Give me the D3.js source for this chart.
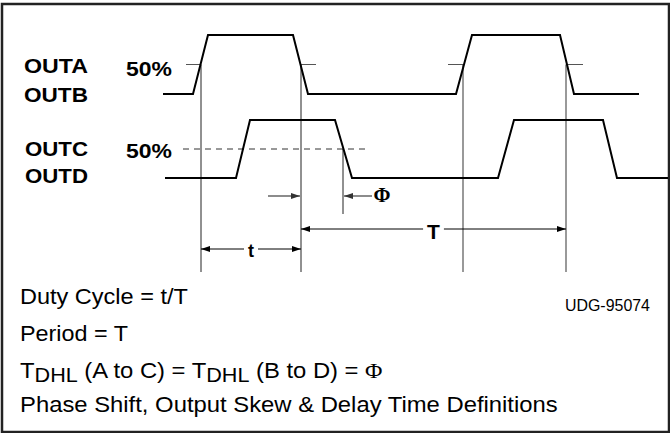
<!DOCTYPE html>
<html>
<head>
<meta charset="utf-8">
<script src="https://d3js.org/d3.v7.min.js"></script>
<style>
  body { margin: 0; background: #fff; }
  svg { display: block; }
</style>
</head>
<body>
<div id="timing-chart"></div>
<script>
// Data ------------------------------------------------------------------->

// Waveforms as [time, level] corners (level 0 = low, 1 = high)
const outab_wave = [[163,0],[193,0],[208,1],[293,1],[308,0],[456,0],[472,1],[560,1],[574,0],[639,0]];
const outcd_wave = [[165,0],[236,0],[250,1],[335,1],[352,0],[498,0],[514,1],[603,1],[617,0],[668,0]];

// Short 50% marks on OUTA/OUTB edges, and the dashed 50% line on OUTC/OUTD
const outab_marks = [[186,200],[300,316],[448,463],[566,583]];
const outcd_mark = [183,368];

// 50% crossing times of OUTA/OUTB (reference lines) and of OUTC falling edge
const edge_times = [201, 301, 463, 566];
const phi_time = 343;

// Dimension arrows: [from, to, label]
const duty_arrow = [201, 301, 't'];
const period_arrow = [301, 566, 'T'];
const skew_in = [268, 300];
const skew_out = [372, 344, 'Φ'];

const signal_names = ['OUTA', 'OUTB', 'OUTC', 'OUTD'];
const level_label = '50%';
const figure_id = 'UDG-95074';
const notes = [
  'Duty Cycle = t/T',
  'Period = T',
  null,
  'Phase Shift, Output Skew & Delay Time Definitions'
];
const delay_parts = [
  ['T', ''], ['DHL', 'sub'], [' (A to C) = T', ''], ['DHL', 'sub'],
  [' (B to D) = ', ''], ['Φ', 'sym']
];

// Setup ------------------------------------------------------------------>

const width = 670, height = 433;
const svg = d3.select('#timing-chart')
  .append('svg')
    .attr('width', width)
    .attr('height', height);

const sans = "'Liberation Sans', Arial, Helvetica, sans-serif";
const serif = "'Liberation Serif', 'Times New Roman', serif";

// Time axis and the two level scales
const x = d3.scaleLinear().domain([0, width]).range([0, width]);
const y_ab = d3.scaleLinear().domain([0, 1]).range([94, 35]);
const y_cd = d3.scaleLinear().domain([0, 1]).range([178, 120]);

const defs = svg.append('defs');
function add_marker(id, color){
  defs.append('marker')
      .attr('id', id)
      .attr('markerUnits', 'userSpaceOnUse')
      .attr('markerWidth', 9)
      .attr('markerHeight', 6)
      .attr('refX', 9)
      .attr('refY', 3)
      .attr('orient', 'auto-start-reverse')
    .append('path')
      .attr('d', 'M0,0 L9,3 L0,6 Z')
      .attr('fill', color);
}
add_marker('arrow', '#000');
add_marker('arrow_grey', '#333');

// Outer frame
svg.append('rect')
  .attr('x', 2)
  .attr('y', 4)
  .attr('width', 667)
  .attr('height', 428)
  .attr('fill', 'none')
  .attr('stroke', '#222')
  .attr('stroke-width', 2.5);

// Text helper: places text at (tx, ty) and stretches it to a target width
function put_text(str, tx, ty, size, weight, target_w, family){
  const t = svg.append('text')
    .attr('x', 0)
    .attr('y', 0)
    .style('font-family', family || sans)
    .style('font-size', size + 'px')
    .style('font-weight', weight)
    .attr('fill', '#000')
    .text(str);
  const w = t.node().getComputedTextLength();
  const sx = target_w ? target_w / w : 1;
  t.attr('transform', `translate(${tx},${ty}) scale(${sx},1)`);
  return t;
}

// Reference lines -------------------------------------------------------->

svg.append('g')
  .selectAll('line')
  .data(edge_times)
  .join('line')
    .attr('x1', d => x(d))
    .attr('x2', d => x(d))
    .attr('y1', y_ab(0.5))
    .attr('y2', 272)
    .attr('stroke', (d, i) => i < 2 ? '#222' : '#777')
    .attr('stroke-width', (d, i) => i < 2 ? 1 : 1.5);

svg.append('line')
  .attr('x1', x(phi_time))
  .attr('x2', x(phi_time))
  .attr('y1', y_cd(0.5))
  .attr('y2', 214)
  .attr('stroke', '#222')
  .attr('stroke-width', 1);

svg.append('g')
  .selectAll('line')
  .data(outab_marks)
  .join('line')
    .attr('x1', d => x(d[0]))
    .attr('x2', d => x(d[1]))
    .attr('y1', y_ab(0.5))
    .attr('y2', y_ab(0.5))
    .attr('stroke', '#555')
    .attr('stroke-width', 1);

svg.append('line')
  .attr('x1', x(outcd_mark[0]))
  .attr('x2', x(outcd_mark[1]))
  .attr('y1', y_cd(0.5))
  .attr('y2', y_cd(0.5))
  .attr('stroke', '#333')
  .attr('stroke-width', 1)
  .attr('stroke-dasharray', '6,5');

// Waveforms -------------------------------------------------------------->

const wave_ab = d3.line().x(d => x(d[0])).y(d => y_ab(d[1]));
const wave_cd = d3.line().x(d => x(d[0])).y(d => y_cd(d[1]));

svg.append('path')
  .attr('d', wave_ab(outab_wave))
  .attr('fill', 'none')
  .attr('stroke', '#000')
  .attr('stroke-width', 2);
svg.append('path')
  .attr('d', wave_cd(outcd_wave))
  .attr('fill', 'none')
  .attr('stroke', '#000')
  .attr('stroke-width', 2);

// Signal labels
put_text(signal_names[0], 24, y_ab(0.5) + 8.5, 19.5, 'bold', 64);
put_text(signal_names[1], 24, y_ab(0) + 7.5, 19.5, 'bold', 64);
put_text(signal_names[2], 25, y_cd(0.5) + 7, 19.5, 'bold', 63);
put_text(signal_names[3], 25, y_cd(0) + 5, 19.5, 'bold', 63);
put_text(level_label, 126, y_ab(0.5) + 11, 19.5, 'bold', 46);
put_text(level_label, 126, y_cd(0.5) + 9, 19.5, 'bold', 46);

// Dimension arrows ------------------------------------------------------->

// Skew arrows at the OUTC 50% level
const skew_y = 196;
svg.append('line')
  .attr('x1', x(skew_in[0])).attr('x2', x(skew_in[1]))
  .attr('y1', skew_y).attr('y2', skew_y)
  .attr('stroke', '#666')
  .attr('stroke-width', 1.5)
  .attr('marker-end', 'url(#arrow_grey)');
svg.append('line')
  .attr('x1', x(skew_out[0])).attr('x2', x(skew_out[1]))
  .attr('y1', skew_y).attr('y2', skew_y)
  .attr('stroke', '#666')
  .attr('stroke-width', 1.5)
  .attr('marker-end', 'url(#arrow_grey)');
put_text(skew_out[2], x(skew_out[0]) + 1.5, skew_y + 5.5, 20, 'bold', 17, serif);

// Double arrows with a centred label
function dim_arrow(spec, ay, size, base_off){
  const [a, b, label] = spec;
  const mid = (x(a) + x(b)) / 2;
  const t = put_text(label, 0, 0, size, 'bold', null);
  const w = t.node().getComputedTextLength();
  t.attr('transform', `translate(${mid - w / 2},${ay + base_off})`);
  const gap = w / 2 + 4;
  svg.append('line')
    .attr('x1', mid - gap).attr('x2', x(a))
    .attr('y1', ay).attr('y2', ay)
    .attr('stroke', '#000').attr('stroke-width', 1)
    .attr('marker-end', 'url(#arrow)');
  svg.append('line')
    .attr('x1', mid + gap).attr('x2', x(b))
    .attr('y1', ay).attr('y2', ay)
    .attr('stroke', '#000').attr('stroke-width', 1)
    .attr('marker-end', 'url(#arrow)');
}
dim_arrow(period_arrow, 229, 21, 10);
dim_arrow(duty_arrow, 249, 18, 8);

// Notes ------------------------------------------------------------------>

put_text(figure_id, 565, 311, 16, 'normal', 85);
put_text(notes[0], 20, 304, 21.5, 'normal', 168);
put_text(notes[1], 20, 340.7, 21.5, 'normal', 108);
put_text(notes[3], 20, 411.7, 21.5, 'normal', 538);

// Delay line with subscripts and the Phi symbol
const delay = svg.append('text')
  .attr('x', 0)
  .attr('y', 0)
  .style('font-family', sans)
  .style('font-size', '21.5px')
  .attr('fill', '#000');
delay_parts.forEach(p => {
  const span = delay.append('tspan').text(p[0]);
  if (p[1] == 'sub') {
    span.attr('dy', 4).style('font-size', '19.5px');
  } else if (p[1] == 'sym') {
    span.style('font-family', serif).attr('dy', 0);
  }
  if (p[1] != 'sub') {
    // return to the main baseline after a subscript
    span.attr('y', 0);
  }
});
const delay_w = delay.node().getBBox().width;
delay.attr('transform', `translate(20,378) scale(${363 / delay_w},1)`);
</script>
</body>
</html>
